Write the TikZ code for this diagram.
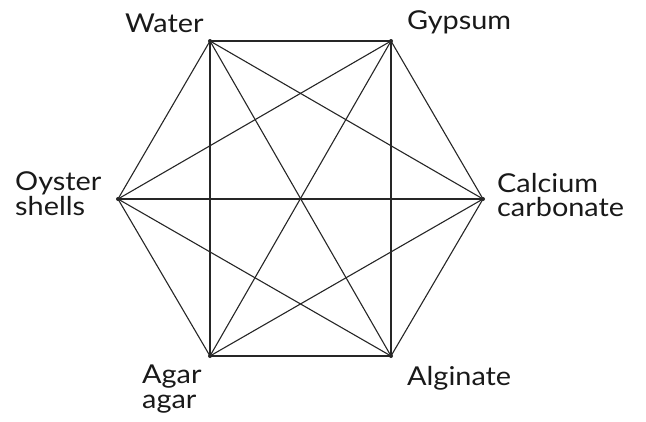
\documentclass[tikz,border=0pt]{standalone}
\usepackage{fontspec}
\setmainfont{Lato}[FakeStretch=1.11]
\begin{document}
\begin{tikzpicture}[x=1pt,y=-1pt,
  vtx/.style={circle,fill=black!85,inner sep=0pt,minimum size=4pt},
  edge/.style={draw=black!85,line width=1.1pt},
  lbl/.style={inner sep=0pt,align=left,font=\fontsize{26}{24.5}\selectfont,text=black!90}]
\useasboundingbox (0,0) rectangle (646,421);
\node[vtx] (w) at (210,41) {};
\node[vtx] (g) at (391,41) {};
\node[vtx] (c) at (483,199) {};
\node[vtx] (al) at (391,356) {};
\node[vtx] (ag) at (210,356) {};
\node[vtx] (o) at (118,199) {};
\foreach \a/\b in {w/g,w/c,w/al,w/ag,w/o,g/c,g/al,g/ag,g/o,c/al,c/ag,c/o,al/ag,al/o,ag/o}
  \draw[edge] (\a.center) -- (\b.center);
\node[lbl,anchor=base west] (tw) at (125,32) {Water};
\node[lbl,anchor=base west] (tg) at (407,29) {Gypsum};
\node[lbl,anchor=base west] (to) at (15,215) {Oyster\\shells};
\node[lbl,anchor=base west] (tc) at (497,216.5) {Calcium\\carbonate};
\node[lbl,anchor=base west] (tag) at (142,408) {Agar\\agar};
\node[lbl,anchor=base west] (tal) at (407,385) {Alginate};
\end{tikzpicture}
\end{document}
